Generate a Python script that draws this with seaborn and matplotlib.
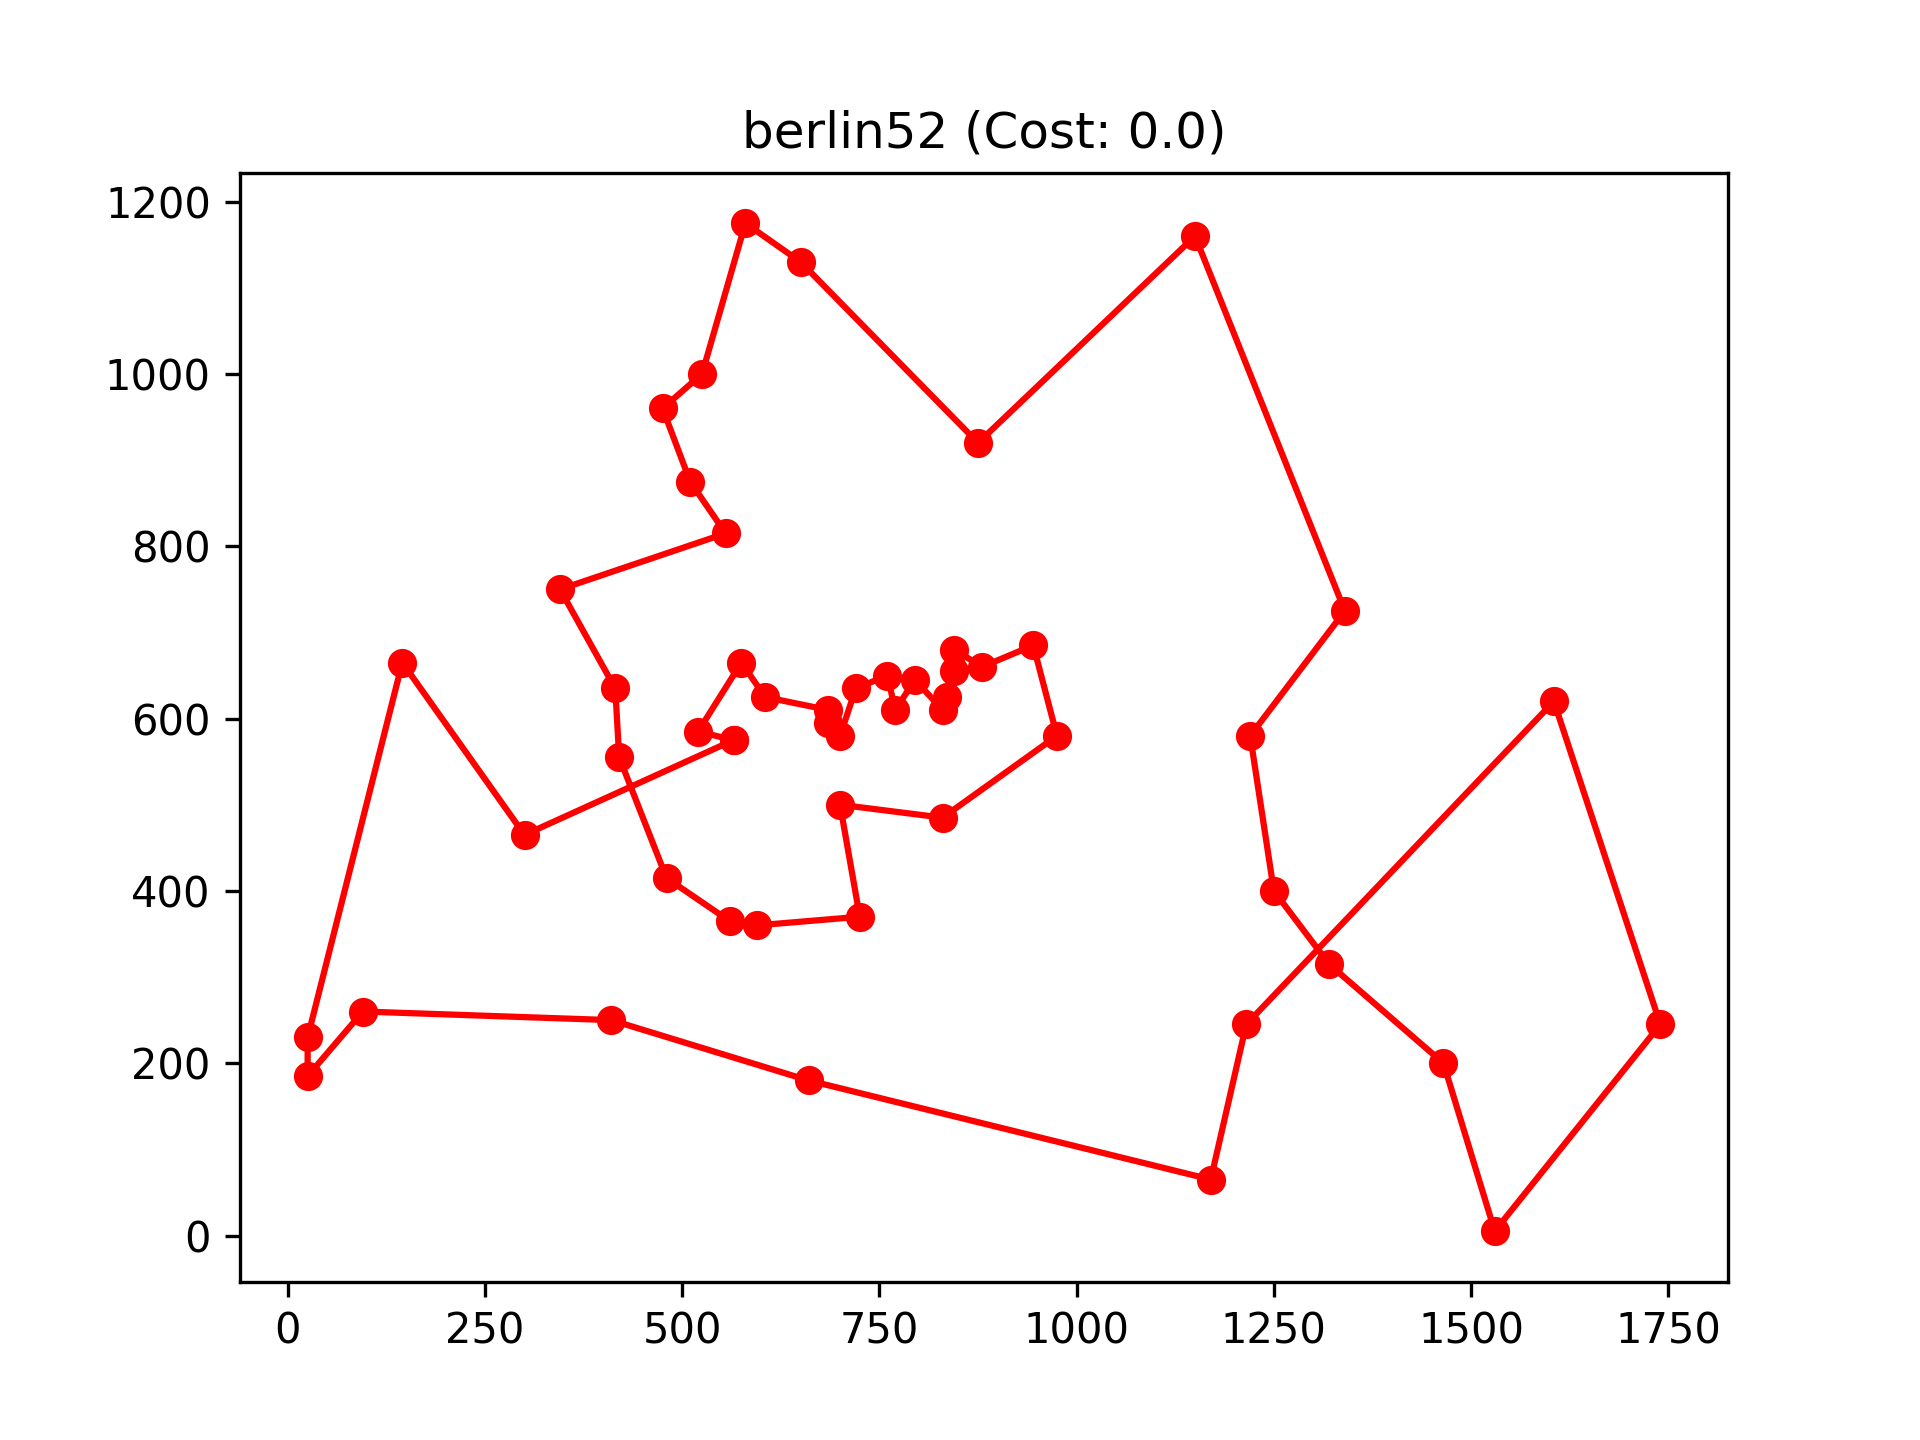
import pandas as pd
import matplotlib
matplotlib.use("Agg")
import matplotlib.pyplot as plt
import seaborn as sns

# berlin52 city coordinates, in tour order (closed back to the first city)
tour_x = [565, 300, 145, 25, 25, 95, 410, 660, 1170, 1215, 1605, 1740, 1530,
          1465, 1320, 1250, 1220, 1340, 1150, 875, 650, 580, 525, 475, 510,
          555, 345, 415, 420, 480, 560, 595, 725, 700, 830, 975, 945, 880,
          845, 845, 835, 830, 795, 770, 760, 720, 700, 685, 685, 605, 575,
          520, 565]
tour_y = [575, 465, 665, 230, 185, 260, 250, 180, 65, 245, 620, 245, 5,
          200, 315, 400, 580, 725, 1160, 920, 1130, 1175, 1000, 960, 875,
          815, 750, 635, 555, 415, 365, 360, 370, 500, 485, 580, 685, 660,
          680, 655, 625, 610, 645, 610, 650, 635, 580, 595, 610, 625, 665,
          585, 575]

title = "berlin52 (Cost: 0.0)"

df = pd.DataFrame({"x": tour_x, "y": tour_y})

fig, ax = plt.subplots(figsize=(6.4, 4.8), dpi=300)
sns.lineplot(
    data=df, x="x", y="y", sort=False, estimator=None,
    color="red", marker="o", markersize=6,
    markeredgecolor="red", markeredgewidth=1.0, linewidth=1.5, ax=ax,
)
ax.set_title(title)
ax.set_xlabel("")
ax.set_ylabel("")

fig.savefig("out.png", dpi=300)
